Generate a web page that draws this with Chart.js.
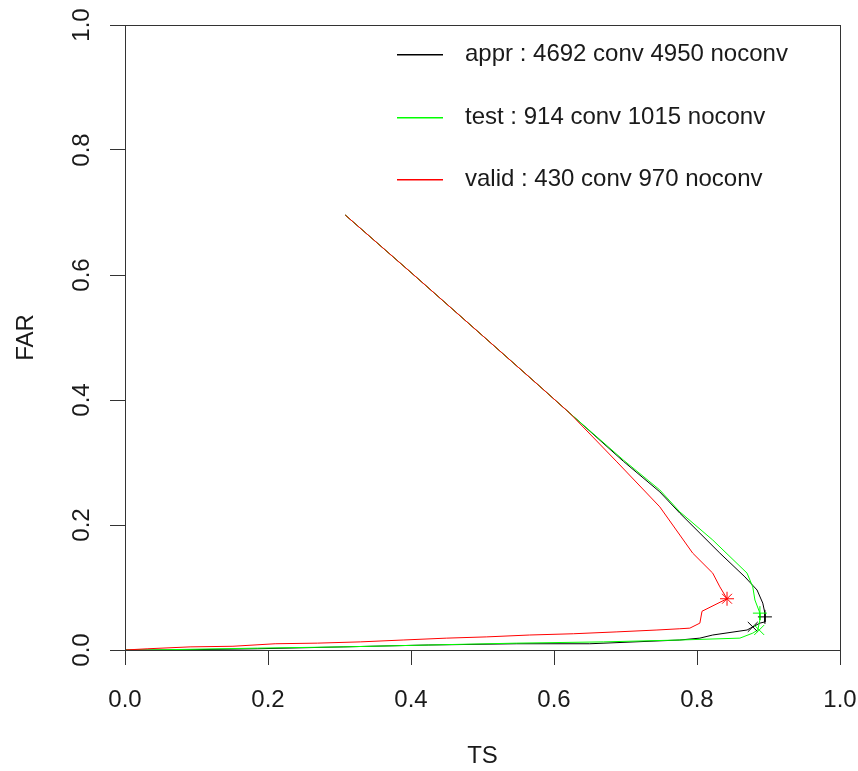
<!DOCTYPE html>
<html>
<head>
<meta charset="utf-8">
<title>TS / FAR</title>
<script src="https://cdn.jsdelivr.net/npm/chart.js@4/dist/chart.umd.min.js"></script>
<style>
  html, body { margin: 0; padding: 0; background: #ffffff; }
  #wrap { width: 858px; height: 771px; }
</style>
</head>
<body>
<div id="wrap"><canvas id="chart" width="858" height="771"></canvas></div>
<script>
// Axis ticks
const tickValues = [0, 0.2, 0.4, 0.6, 0.8, 1.0];
const tickLabels = ['0.0', '0.2', '0.4', '0.6', '0.8', '1.0'];

// Series names
const seriesNames = [
  'appr : 4692 conv 4950 noconv',
  'test : 914 conv 1015 noconv',
  'valid : 430 conv 970 noconv'
];

// appr curve (TS, FAR)
const apprTS  = [0.308, 0.40, 0.50, 0.58, 0.622, 0.697, 0.748, 0.776, 0.832, 0.867, 0.884, 0.892, 0.895, 0.895, 0.895, 0.888, 0.878, 0.870, 0.822, 0.804, 0.776, 0.650, 0.548, 0.424, 0.305, 0.185, 0.060, 0.0];
const apprFAR = [0.696, 0.604, 0.503, 0.422, 0.379, 0.302, 0.253, 0.219, 0.155, 0.117, 0.096, 0.075, 0.059, 0.053, 0.045, 0.043, 0.037, 0.032, 0.024, 0.019, 0.016, 0.010, 0.010, 0.008, 0.005, 0.002, 0.0, 0.0];

// test curve (TS, FAR)
const testTS  = [0.308, 0.40, 0.50, 0.58, 0.622, 0.697, 0.748, 0.776, 0.822, 0.870, 0.878, 0.881, 0.888, 0.888, 0.885, 0.878, 0.860, 0.776, 0.669, 0.548, 0.424, 0.305, 0.185, 0.032, 0.0];
const testFAR = [0.696, 0.604, 0.503, 0.422, 0.379, 0.304, 0.256, 0.221, 0.176, 0.123, 0.101, 0.080, 0.059, 0.048, 0.032, 0.027, 0.019, 0.016, 0.013, 0.011, 0.008, 0.005, 0.003, 0.0, 0.0];

// valid curve (TS, FAR)
const validTS  = [0.308, 0.40, 0.50, 0.58, 0.622, 0.688, 0.748, 0.794, 0.822, 0.832, 0.842, 0.807, 0.804, 0.790, 0.776, 0.744, 0.688, 0.627, 0.566, 0.506, 0.450, 0.389, 0.329, 0.269, 0.210, 0.151, 0.091, 0.032, 0.0];
const validFAR = [0.696, 0.604, 0.503, 0.422, 0.379, 0.301, 0.229, 0.155, 0.123, 0.101, 0.082, 0.062, 0.043, 0.035, 0.034, 0.032, 0.029, 0.026, 0.024, 0.021, 0.019, 0.016, 0.013, 0.011, 0.010, 0.006, 0.005, 0.002, 0.0];

// Highlighted operating points: [TS, FAR]
const apprPlus  = [0.895, 0.053];
const apprCross = [0.878, 0.037];
const testPlus  = [0.888, 0.059];
const testCross = [0.887, 0.032];
const validPlus  = [0.842, 0.082];
const validCross = [0.842, 0.082];

const seriesColors = ['#000000', '#00ff00', '#ff0000'];

const toPoints = (xs, ys) => xs.map((x, i) => ({ x: x, y: ys[i] }));

function curve(label, xs, ys, color, order) {
  return {
    label: label,
    data: toPoints(xs, ys),
    showLine: true,
    borderColor: color,
    backgroundColor: color,
    borderWidth: 1,
    pointRadius: 0,
    tension: 0,
    order: order
  };
}

function marker(pt, style, color, order) {
  return {
    label: '',
    data: [{ x: pt[0], y: pt[1] }],
    showLine: false,
    pointStyle: style,
    pointRadius: 7,
    pointBorderWidth: 1,
    borderColor: color,
    backgroundColor: color,
    order: order
  };
}

const datasets = [
  curve(seriesNames[0], apprTS, apprFAR, seriesColors[0], 6),
  curve(seriesNames[1], testTS, testFAR, seriesColors[1], 5),
  curve(seriesNames[2], validTS, validFAR, seriesColors[2], 4),
  marker(apprPlus, 'cross', seriesColors[0], 3),
  marker(apprCross, 'crossRot', seriesColors[0], 3),
  marker(testPlus, 'cross', seriesColors[1], 2),
  marker(testCross, 'crossRot', seriesColors[1], 2),
  marker(validPlus, 'cross', seriesColors[2], 1),
  marker(validCross, 'crossRot', seriesColors[2], 1)
];

const FONT = "'Liberation Sans', Arial, Helvetica, sans-serif";
const AXIS = '#333333';
const TEXT = '#1a1a1a';

// Frame around the plotting region
const framePlugin = {
  id: 'frame',
  afterDraw(chart) {
    const { ctx, chartArea: a } = chart;
    ctx.save();
    ctx.strokeStyle = AXIS;
    ctx.lineWidth = 1;
    ctx.strokeRect(Math.round(a.left) + 0.5, Math.round(a.top) + 0.5,
                   Math.round(a.right - a.left), Math.round(a.bottom - a.top));
    ctx.restore();
  }
};

// Legend with line samples, placed inside the plot
const lineLegend = {
  id: 'lineLegend',
  afterDraw(chart) {
    const ctx = chart.ctx;
    ctx.save();
    ctx.font = '24px ' + FONT;
    ctx.textBaseline = 'middle';
    ctx.textAlign = 'left';
    seriesNames.forEach((name, i) => {
      const y = Math.round(54 + i * 62.5);
      ctx.fillStyle = seriesColors[i];
      ctx.fillRect(397, y, 46, 1.5);
      ctx.fillStyle = TEXT;
      ctx.fillText(chart.data.datasets[i].label, 465, y);
    });
    ctx.restore();
  }
};

function setTicks(scale) {
  scale.ticks = tickValues.map(v => ({ value: v }));
}

new Chart(document.getElementById('chart'), {
  type: 'scatter',
  data: { datasets: datasets },
  options: {
    responsive: false,
    animation: false,
    devicePixelRatio: 1,
    layout: { padding: { top: 25, right: 18, left: 0, bottom: 0 } },
    plugins: {
      legend: { display: false },
      tooltip: { enabled: false }
    },
    scales: {
      x: {
        type: 'linear',
        min: 0, max: 1,
        afterBuildTicks: setTicks,
        afterFit(scale) {
          scale.height = 121;
          scale.paddingLeft = 0;
          scale.paddingRight = 0;
        },
        grid: { drawOnChartArea: false, drawTicks: true, tickLength: 15, color: AXIS, tickColor: AXIS },
        border: { display: true, color: AXIS, width: 1 },
        ticks: {
          autoSkip: false,
          maxRotation: 0,
          minRotation: 0,
          padding: 21,
          color: TEXT,
          font: { family: FONT, size: 24 },
          callback: (v, i) => tickLabels[i]
        },
        title: {
          display: true,
          text: 'TS',
          color: TEXT,
          font: { family: FONT, size: 24 },
          padding: { top: 0, bottom: 0 }
        }
      },
      y: {
        type: 'linear',
        min: 0, max: 1,
        afterBuildTicks: setTicks,
        afterFit(scale) {
          scale.width = 125;
          scale.paddingTop = 0;
          scale.paddingBottom = 0;
        },
        grid: { drawOnChartArea: false, drawTicks: true, tickLength: 15, color: AXIS, tickColor: AXIS },
        border: { display: true, color: AXIS, width: 1 },
        ticks: {
          autoSkip: false,
          minRotation: 90,
          maxRotation: 90,
          crossAlign: 'center',
          padding: 11,
          color: TEXT,
          font: { family: FONT, size: 24 },
          callback: (v, i) => tickLabels[i]
        },
        title: {
          display: true,
          text: 'FAR',
          color: TEXT,
          font: { family: FONT, size: 24 },
          padding: { top: 12, bottom: 12 }
        }
      }
    }
  },
  plugins: [framePlugin, lineLegend]
});
</script>
</body>
</html>
